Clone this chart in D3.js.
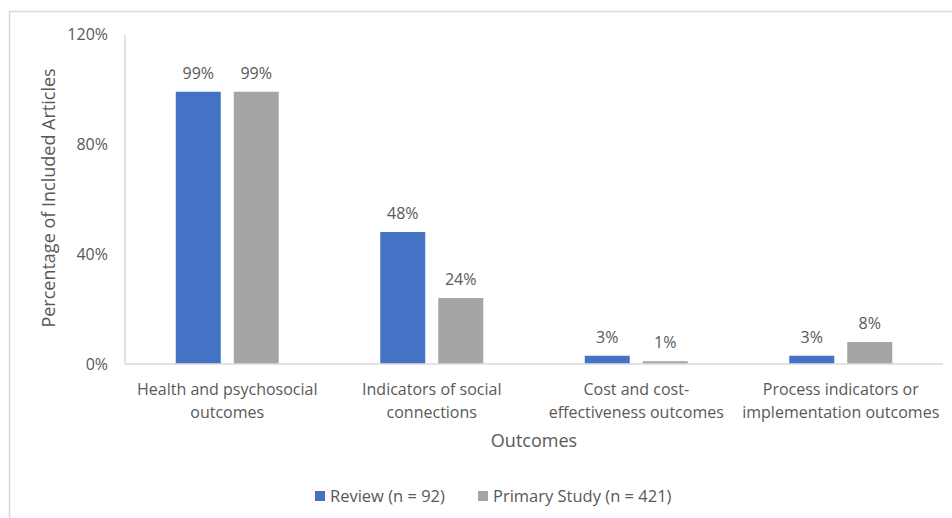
<!DOCTYPE html>
<html>
<head>
<meta charset="utf-8">
<script src="https://cdn.jsdelivr.net/npm/d3@7"></script>
<style>
  html, body { margin: 0; padding: 0; background: #fff; }
  svg text { font-family: "Open Sans", "Noto Sans", sans-serif; fill: #595959; }
</style>
</head>
<body>
<svg id="chart" width="952" height="518"></svg>
<script>
// Outcome categories (each label split into two lines)
const categories = [
  ["Health and psychosocial", "outcomes"],
  ["Indicators of social", "connections"],
  ["Cost and cost-", "effectiveness outcomes"],
  ["Process indicators or", "implementation outcomes"]
];
const seriesNames = ["Review (n = 92)", "Primary Study (n = 421)"];
const reviewValues = [0.99, 0.48, 0.03, 0.03];
const primaryValues = [0.99, 0.24, 0.01, 0.08];
const yTicks = [0, 0.4, 0.8, 1.2];
const colors = ["#4472C4", "#A5A5A5"];

const svg = d3.select("#chart");

// Outer chart frame
svg.append("rect")
  .attr("x", 9.5).attr("y", 11.5)
  .attr("width", 980).attr("height", 540)
  .attr("fill", "none").attr("stroke", "#d9d9d9").attr("stroke-width", 1.5);

const plot = { left: 125, right: 943, top: 34, bottom: 364 };

const y = d3.scaleLinear().domain([0, 1.2]).range([plot.bottom, plot.top]);
const catKeys = categories.map(c => c.join(" "));
const x0 = d3.scaleBand().domain(catKeys).range([plot.left, plot.right]);
const groupW = 103;
const x1 = d3.scaleBand().domain(seriesNames)
  .range([(x0.bandwidth() - groupW) / 2, (x0.bandwidth() + groupW) / 2])
  .paddingInner(0.224);

// Y axis labels
const yAxis = svg.append("g")
  .attr("transform", `translate(${plot.left - 17},0)`)
  .call(d3.axisLeft(y).tickValues(yTicks).tickSize(0).tickPadding(0).tickFormat(d3.format(".0%")));
yAxis.select(".domain").remove();
yAxis.selectAll("text")
  .attr("font-size", 16)
  .style("font-family", "'Open Sans', sans-serif")
  .attr("fill", "#595959");

// Axis lines
svg.append("line")
  .attr("x1", plot.left).attr("x2", plot.left)
  .attr("y1", plot.top + 1).attr("y2", plot.bottom)
  .attr("stroke", "#d9d9d9").attr("stroke-width", 1.5);
svg.append("line")
  .attr("x1", plot.left).attr("x2", plot.right)
  .attr("y1", plot.bottom).attr("y2", plot.bottom)
  .attr("stroke", "#d9d9d9").attr("stroke-width", 1.5);

// Bars
const rows = catKeys.map((k, i) => ({
  key: k,
  vals: [reviewValues[i], primaryValues[i]]
}));

const groups = svg.append("g").selectAll("g")
  .data(rows).join("g")
  .attr("transform", d => `translate(${x0(d.key)},0)`);

groups.selectAll("rect")
  .data(d => d.vals.map((v, j) => ({ s: seriesNames[j], v, j })))
  .join("rect")
  .attr("x", d => x1(d.s))
  .attr("width", x1.bandwidth())
  .attr("y", d => y(d.v))
  .attr("height", d => y(0) - y(d.v) - 0.75)
  .attr("fill", d => colors[d.j]);

// Value labels
groups.selectAll("text.val")
  .data(d => d.vals.map((v, j) => ({ s: seriesNames[j], v, j })))
  .join("text")
  .attr("class", "val")
  .attr("x", d => x1(d.s) + x1.bandwidth() / 2)
  .attr("y", d => y(d.v) - 13)
  .attr("text-anchor", "middle")
  .attr("font-size", 16)
  .text(d => d3.format(".0%")(d.v));

// Category labels
const catLabels = svg.append("g").selectAll("text")
  .data(categories).join("text")
  .attr("x", (d, i) => x0(catKeys[i]) + x0.bandwidth() / 2)
  .attr("y", 395)
  .attr("text-anchor", "middle")
  .attr("font-size", 16);
catLabels.selectAll("tspan")
  .data(d => d).join("tspan")
  .attr("x", function () { return this.parentNode.getAttribute("x"); })
  .attr("dy", (d, i) => i === 0 ? 0 : 22.5)
  .text(d => d);

// Axis titles
svg.append("text")
  .attr("x", (plot.left + plot.right) / 2)
  .attr("y", 447)
  .attr("text-anchor", "middle")
  .attr("font-size", 18)
  .text("Outcomes");

svg.append("text")
  .attr("transform", "translate(55,198) rotate(-90)")
  .attr("text-anchor", "middle")
  .attr("font-size", 18)
  .text("Percentage of Included Articles");

// Legend
const legendItems = [
  { name: seriesNames[0], x: 315 },
  { name: seriesNames[1], x: 478 }
];
const legend = svg.append("g").selectAll("g")
  .data(legendItems).join("g")
  .attr("transform", d => `translate(${d.x},491)`);
legend.append("rect")
  .attr("width", 10).attr("height", 10)
  .attr("fill", (d, i) => colors[i]);
legend.append("text")
  .attr("x", 15).attr("y", 10.5)
  .attr("font-size", 16.5)
  .text(d => d.name);
</script>
</body>
</html>
